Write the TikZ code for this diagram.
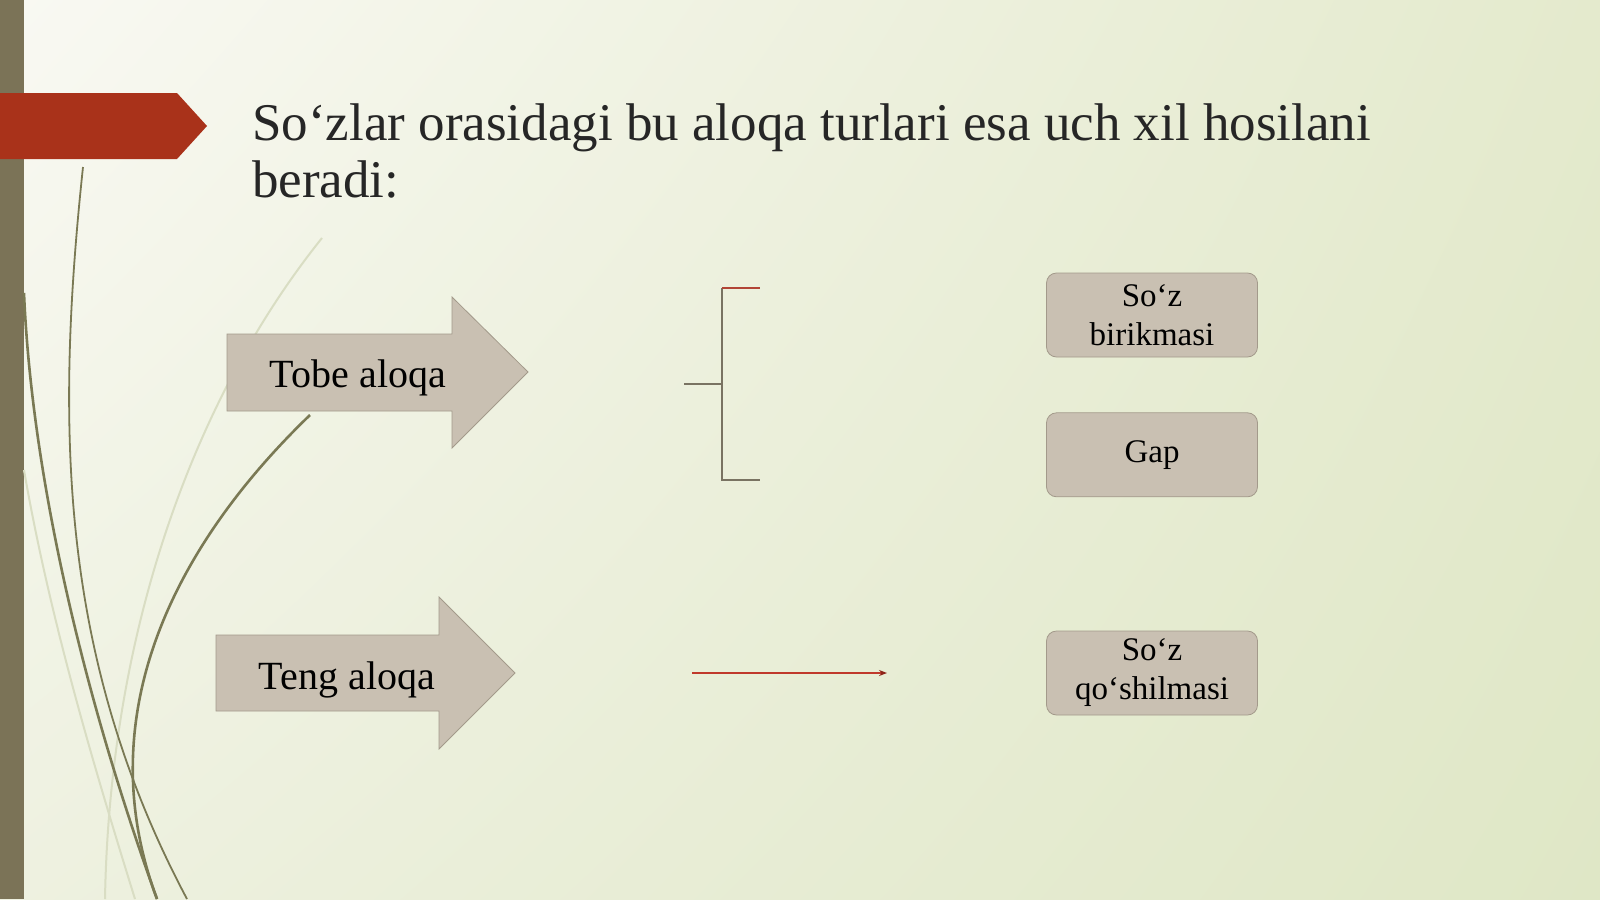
\documentclass[tikz,border=0pt]{standalone}
\usepackage{fontspec}
\setmainfont{Liberation Serif}
\usetikzlibrary{arrows.meta,positioning,calc,shadings}

\definecolor{bgul}{HTML}{F9F9F3}
\definecolor{bgur}{HTML}{E4EACD}
\definecolor{bgll}{HTML}{EEF1E0}
\definecolor{bglr}{HTML}{DFE7C6}
\definecolor{sidebar}{HTML}{7B7357}
\definecolor{banner}{HTML}{A9321A}
\definecolor{stemcol}{HTML}{7A7954}
\definecolor{faintcol}{HTML}{D9DDC3}
\definecolor{shapefill}{HTML}{C9C0B2}
\definecolor{shapeline}{HTML}{A39A8B}
\definecolor{bracecol}{HTML}{797362}
\definecolor{linkred}{HTML}{C0392B}
\definecolor{tipred}{HTML}{8E2418}
\definecolor{titlecol}{HTML}{262626}

\begin{document}
\begin{tikzpicture}[x=1pt,y=-1pt,
    stem/.style={draw=stemcol, line width=2.6pt},
    faint/.style={draw=faintcol, line width=2pt},
    bigarrow/.style={draw=shapeline, fill=shapefill, line width=0.8pt},
    arrowtext/.style={inner sep=0pt, font=\fontsize{40}{48}\selectfont},
    box/.style={rectangle, rounded corners=10pt, draw=shapeline, fill=shapefill, line width=0.8pt,
        minimum width=211pt, minimum height=84pt, align=center, font=\fontsize{33}{39}\selectfont},
    brace/.style={draw=bracecol, line width=1.3pt},
    link/.style={draw=linkred, line width=1.4pt, -{Stealth[length=8pt, width=6pt, color=tipred]}}]

    % background and left decoration
    \useasboundingbox (0,0) rectangle (1600,899);
    \shade[upper left=bgul, upper right=bgur, lower left=bgll, lower right=bglr] (0,0) rectangle (1600,899);
    \fill[sidebar] (0,0) rectangle (24,899);
    \draw[faint] (322,238) .. controls (200,390) and (110,620) .. (105,899);
    \draw[faint] (24,470) .. controls (50,620) and (95,770) .. (135,899);
    \draw[stem] (24,293) .. controls (32,480) and (85,700) .. (157,899);
    \draw[stem, line width=1.8pt] (83,167) .. controls (55,430) and (60,660) .. (187,899);
    \draw[stem] (310,415) .. controls (175,545) and (88,715) .. (157,899);
    \fill[banner] (0,93) -- (177,93) -- (207,126) -- (177,159) -- (0,159) -- cycle;

    % title
    \node[anchor=base west, align=left, inner sep=0pt, text=titlecol, font=\fontsize{53}{57}\selectfont] (title) at (252,197)
        {So‘zlar orasidagi bu aloqa turlari esa uch xil hosilani\\beradi:};

    % the two kinds of link
    \draw[bigarrow] (227,334) -- (452,334) -- (452,297) -- (528,372) -- (452,448) -- (452,411) -- (227,411) -- cycle;
    \node[arrowtext, anchor=base] (tobe) at (358,387) {Tobe aloqa};
    \draw[bigarrow] (216,635) -- (439,635) -- (439,597) -- (515,673) -- (439,749) -- (439,711) -- (216,711) -- cycle;
    \node[arrowtext, anchor=base] (teng) at (347,689) {Teng aloqa};

    % results
    \node[box] (birikma) at (1152,315) {So‘z\\birikmasi};
    \node[box, below=55pt of birikma] (gap) {Gap};
    \node[box] (qoshilma) at (1152,673) {So‘z\\qo‘shilmasi};

    % bracket and arrow
    \coordinate (bkin) at (684,384);
    \coordinate (bkmid) at (722,384);
    \coordinate (bktop) at (760,288);
    \coordinate (bkbot) at (760,480);
    \draw[brace] (bkin) -- (bkmid);
    \draw[brace] (bktop -| bkmid) -- (bkbot -| bkmid) -- (bkbot);
    \draw[brace, draw=linkred!80!bracecol] (bktop -| bkmid) -- (bktop);
    \coordinate (lkstart) at (692,673);
    \coordinate (lkend) at (887,673);
    \draw[link] (lkstart) -- (lkend);
\end{tikzpicture}
\end{document}
